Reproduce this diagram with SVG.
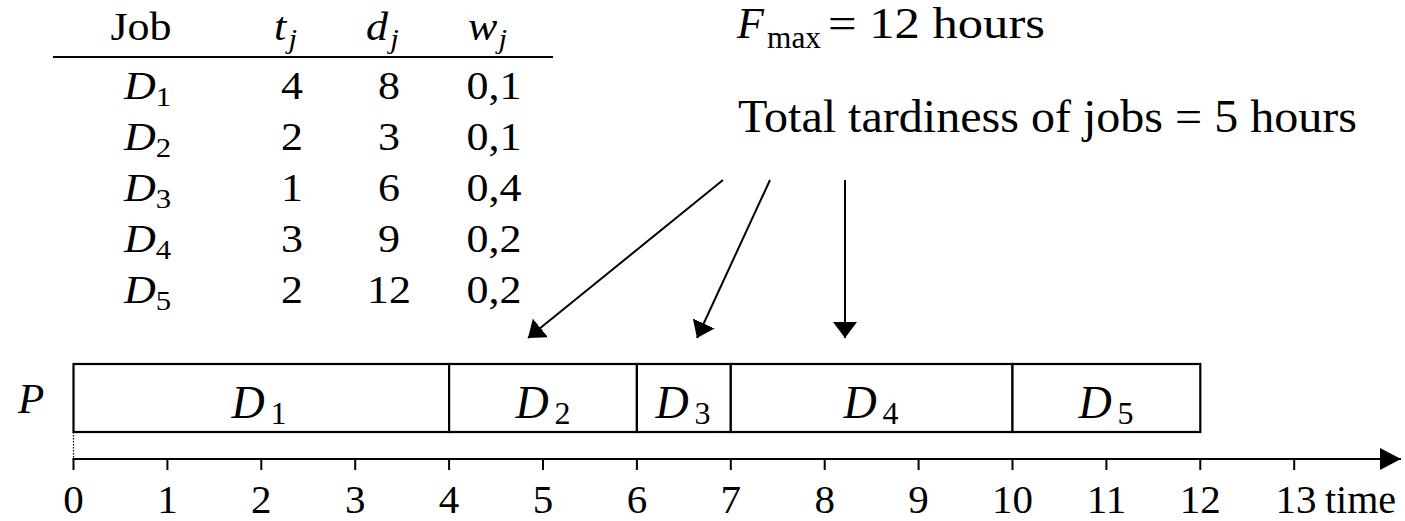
<svg xmlns="http://www.w3.org/2000/svg" width="1405" height="521" viewBox="0 0 1405 521" font-family="'Liberation Serif', 'Times New Roman', 'DejaVu Serif', serif">
<style>
text{font-family:'Liberation Serif','Times New Roman','DejaVu Serif',serif;fill:#000}
.it{font-style:italic}
.tb{font-size:40px}
.c{text-anchor:middle}
.tick{font-size:41px;text-anchor:middle}
.lbl{font-size:46px;text-anchor:middle}
.box{fill:#fff;stroke:#000;stroke-width:2.2}
.ln{stroke:#000;stroke-width:2;fill:none}
</style>
<defs>
<marker id="ah" markerUnits="userSpaceOnUse" viewBox="0 0 16 24" refX="16" refY="12" markerWidth="16" markerHeight="24" orient="auto">
<path d="M0,0 L16,12 L0,24 z" fill="#000"/>
</marker>
<marker id="axh" markerUnits="userSpaceOnUse" viewBox="0 0 21 22" refX="21" refY="11" markerWidth="21" markerHeight="22" orient="auto">
<path d="M0,0 L21,11 L0,22 z" fill="#000"/>
</marker>
</defs>

<g id="table">
<line class="ln" x1="53" y1="57" x2="553" y2="57"/>
<g transform="scale(1.1 1)">
<text class="tb c" x="128.2" y="40">Job</text>
<text class="tb" x="249.1" y="40"><tspan class="it">t</tspan><tspan class="it" font-size="28" dx="2" dy="8">j</tspan></text>
<text class="tb" x="332.7" y="40"><tspan class="it">d</tspan><tspan class="it" font-size="28" dx="2" dy="8">j</tspan></text>
<text class="tb" x="425.5" y="40"><tspan class="it">w</tspan><tspan class="it" font-size="28" dx="1" dy="8">j</tspan></text>
<g id="row1">
<text class="tb" x="112.7" y="99"><tspan class="it">D</tspan><tspan font-size="28" dy="7">1</tspan></text>
<text class="tb c" x="265.5" y="99">4</text><text class="tb c" x="353.6" y="99">8</text><text class="tb c" x="449.1" y="99">0,1</text>
</g>
<g id="row2">
<text class="tb" x="112.7" y="150"><tspan class="it">D</tspan><tspan font-size="28" dy="7">2</tspan></text>
<text class="tb c" x="265.5" y="150">2</text><text class="tb c" x="353.6" y="150">3</text><text class="tb c" x="449.1" y="150">0,1</text>
</g>
<g id="row3">
<text class="tb" x="112.7" y="201"><tspan class="it">D</tspan><tspan font-size="28" dy="7">3</tspan></text>
<text class="tb c" x="265.5" y="201">1</text><text class="tb c" x="353.6" y="201">6</text><text class="tb c" x="449.1" y="201">0,4</text>
</g>
<g id="row4">
<text class="tb" x="112.7" y="252"><tspan class="it">D</tspan><tspan font-size="28" dy="7">4</tspan></text>
<text class="tb c" x="265.5" y="252">3</text><text class="tb c" x="353.6" y="252">9</text><text class="tb c" x="449.1" y="252">0,2</text>
</g>
<g id="row5">
<text class="tb" x="112.7" y="303"><tspan class="it">D</tspan><tspan font-size="28" dy="7">5</tspan></text>
<text class="tb c" x="265.5" y="303">2</text><text class="tb c" x="353.6" y="303">12</text><text class="tb c" x="449.1" y="303">0,2</text>
</g>
</g>
</g>

<g id="fmax">
<text class="it" x="737" y="38" font-size="44">F</text>
<text x="767" y="48" font-size="31" textLength="54" lengthAdjust="spacingAndGlyphs">max</text>
<text x="828" y="38" font-size="45" textLength="217" lengthAdjust="spacingAndGlyphs">= 12 hours</text>
</g>
<g id="tardiness">
<text x="738" y="132" font-size="46" textLength="619" lengthAdjust="spacingAndGlyphs">Total tardiness of jobs = 5 hours</text>
</g>

<g id="connectors">
<line class="ln" x1="723" y1="180" x2="528" y2="338" marker-end="url(#ah)"/>
<line class="ln" x1="770" y1="180" x2="697" y2="338" marker-end="url(#ah)"/>
<line class="ln" x1="845" y1="180" x2="845" y2="338" marker-end="url(#ah)"/>
</g>

<g id="gantt">
<text class="it" x="18" y="413" font-size="43">P</text>
<g id="D1"><rect class="box" x="73.5" y="364" width="375.6" height="68"/><text class="lbl" x="259" y="418"><tspan class="it">D</tspan><tspan font-size="32" dx="6" dy="6">1</tspan></text></g>
<g id="D2"><rect class="box" x="449.1" y="364" width="187.8" height="68"/><text class="lbl" x="543" y="418"><tspan class="it">D</tspan><tspan font-size="32" dx="6" dy="6">2</tspan></text></g>
<g id="D3"><rect class="box" x="636.9" y="364" width="93.9" height="68"/><text class="lbl" x="683" y="418"><tspan class="it">D</tspan><tspan font-size="32" dx="6" dy="6">3</tspan></text></g>
<g id="D4"><rect class="box" x="730.8" y="364" width="281.7" height="68"/><text class="lbl" x="871" y="418"><tspan class="it">D</tspan><tspan font-size="32" dx="6" dy="6">4</tspan></text></g>
<g id="D5"><rect class="box" x="1012.5" y="364" width="187.8" height="68"/><text class="lbl" x="1106" y="418"><tspan class="it">D</tspan><tspan font-size="32" dx="6" dy="6">5</tspan></text></g>
</g>

<g id="axis">
<line x1="73.5" y1="432" x2="73.5" y2="459" stroke="#000" stroke-width="1.2" stroke-dasharray="1.5 1.5"/>
<line class="ln" x1="72.5" y1="459" x2="1401" y2="459" marker-end="url(#axh)"/>
<path class="ln" d="M73.5,459V470M167.4,459V470M261.3,459V470M355.2,459V470M449.1,459V470M543,459V470M636.9,459V470M730.8,459V470M824.7,459V470M918.6,459V470M1012.5,459V470M1106.4,459V470M1200.3,459V470M1294.2,459V470"/>
<text class="tick" x="73.5" y="513">0</text>
<text class="tick" x="167.4" y="513">1</text>
<text class="tick" x="261.3" y="513">2</text>
<text class="tick" x="355.2" y="513">3</text>
<text class="tick" x="449.1" y="513">4</text>
<text class="tick" x="543" y="513">5</text>
<text class="tick" x="636.9" y="513">6</text>
<text class="tick" x="730.8" y="513">7</text>
<text class="tick" x="824.7" y="513">8</text>
<text class="tick" x="918.6" y="513">9</text>
<text class="tick" x="1012.5" y="513">10</text>
<text class="tick" x="1106.4" y="513">11</text>
<text class="tick" x="1200.3" y="513">12</text>
<text class="tick" x="1296" y="513">13</text>
<text x="1325" y="513" font-size="40">time</text>
</g>
</svg>
